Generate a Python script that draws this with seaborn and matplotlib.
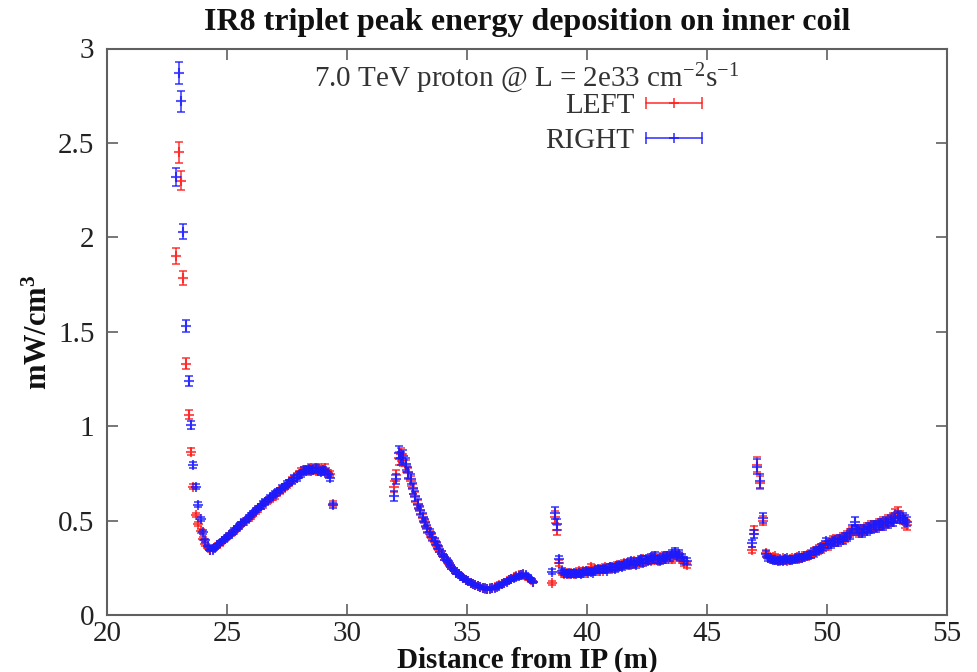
import numpy as np
import pandas as pd
import matplotlib
matplotlib.use("Agg")
import matplotlib.pyplot as plt
from matplotlib.lines import Line2D
from matplotlib.legend_handler import HandlerBase
import seaborn as sns

# ---------------- data ----------------
x_seg1 = [22.88, 22.98, 23.07, 23.18, 23.29,
          23.4, 23.5, 23.6, 23.7, 23.8, 23.9, 24.0, 24.1, 24.2,
          24.3, 24.4, 24.5, 24.6, 24.7, 24.8, 24.9,
          25.0, 25.1, 25.2, 25.3, 25.4, 25.5, 25.6, 25.7, 25.8, 25.9,
          26.0, 26.1, 26.2, 26.3, 26.4, 26.5, 26.6, 26.7, 26.8, 26.9,
          27.0, 27.1, 27.2, 27.3, 27.4, 27.5, 27.6, 27.7, 27.8, 27.9,
          28.0, 28.1, 28.2, 28.3, 28.4, 28.5, 28.6, 28.7, 28.8, 28.9,
          29.0, 29.1, 29.2, 29.3, 29.4]
left_seg1 = [1.90, 2.45, 2.30, 1.785, 1.33,
             1.06, 0.865, 0.68, 0.53, 0.48, 0.445, 0.405, 0.375, 0.355,
             0.345, 0.35, 0.36, 0.37, 0.375, 0.39, 0.40,
             0.415, 0.42, 0.435, 0.44, 0.455, 0.47, 0.48, 0.49, 0.505, 0.51,
             0.52, 0.535, 0.545, 0.56, 0.575, 0.58, 0.595, 0.605, 0.61, 0.625,
             0.63, 0.645, 0.655, 0.665, 0.68, 0.685, 0.70, 0.715, 0.72, 0.735,
             0.745, 0.76, 0.76, 0.77, 0.765, 0.78, 0.77, 0.765, 0.78, 0.77,
             0.76, 0.78, 0.75, 0.745, 0.59]
right_seg1 = [2.32, 2.87, 2.72, 2.03, 1.53,
              1.24, 1.006, 0.795, 0.68, 0.585, 0.51, 0.44, 0.395, 0.365,
              0.345, 0.345, 0.355, 0.37, 0.38, 0.39, 0.405,
              0.41, 0.425, 0.43, 0.45, 0.46, 0.465, 0.485, 0.495, 0.50, 0.52,
              0.53, 0.54, 0.555, 0.565, 0.575, 0.59, 0.60, 0.61, 0.625, 0.63,
              0.645, 0.65, 0.66, 0.675, 0.68, 0.695, 0.70, 0.71, 0.725, 0.725,
              0.74, 0.745, 0.77, 0.76, 0.775, 0.765, 0.77, 0.78, 0.765, 0.755,
              0.77, 0.76, 0.745, 0.725, 0.58]

x_seg2 = [31.95,
          32.05, 32.15, 32.25, 32.35, 32.45, 32.55, 32.65, 32.75, 32.85, 32.95,
          33.05, 33.15, 33.25, 33.35, 33.45, 33.55, 33.65, 33.75, 33.85, 33.95,
          34.05, 34.15, 34.25, 34.35, 34.45, 34.55, 34.65, 34.75, 34.85, 34.95,
          35.05, 35.15, 35.25, 35.35, 35.45, 35.55, 35.65, 35.75, 35.85, 35.95,
          36.05, 36.15, 36.25, 36.35, 36.45, 36.55, 36.65, 36.75, 36.85, 36.95,
          37.05, 37.15, 37.25, 37.35, 37.45, 37.55, 37.65, 37.75]
left_seg2 = [0.68,
             0.74, 0.83, 0.85, 0.82, 0.79, 0.75, 0.71, 0.665, 0.625, 0.585,
             0.55, 0.515, 0.485, 0.455, 0.43, 0.41, 0.385, 0.365, 0.345, 0.325,
             0.305, 0.285, 0.27, 0.255, 0.24, 0.225, 0.215, 0.205, 0.195, 0.185,
             0.18, 0.17, 0.165, 0.16, 0.155, 0.15, 0.145, 0.14, 0.14, 0.145,
             0.145, 0.15, 0.155, 0.16, 0.165, 0.17, 0.18, 0.185, 0.19, 0.20,
             0.205, 0.21, 0.21, 0.21, 0.205, 0.195, 0.185, 0.175]
right_seg2 = [0.63,
              0.72, 0.86, 0.83, 0.84, 0.80, 0.755, 0.72, 0.67, 0.63, 0.59,
              0.555, 0.52, 0.49, 0.46, 0.44, 0.415, 0.39, 0.37, 0.35, 0.325,
              0.305, 0.29, 0.275, 0.255, 0.24, 0.225, 0.215, 0.205, 0.195, 0.185,
              0.18, 0.17, 0.165, 0.16, 0.155, 0.15, 0.145, 0.145, 0.14, 0.14,
              0.145, 0.145, 0.15, 0.155, 0.165, 0.17, 0.175, 0.185, 0.19, 0.195,
              0.20, 0.205, 0.21, 0.215, 0.21, 0.20, 0.19, 0.175]

x_seg3 = [38.55, 38.65, 38.75, 38.85, 38.95,
          39.05, 39.15, 39.25, 39.35, 39.45, 39.55, 39.65, 39.75, 39.85, 39.95,
          40.05, 40.15, 40.25, 40.35, 40.45, 40.55, 40.65, 40.75, 40.85, 40.95,
          41.05, 41.15, 41.25, 41.35, 41.45, 41.55, 41.65, 41.75, 41.85, 41.95,
          42.05, 42.15, 42.25, 42.35, 42.45, 42.55, 42.65, 42.75, 42.85, 42.95,
          43.05, 43.15, 43.25, 43.35, 43.45, 43.55, 43.65, 43.75, 43.85, 43.95,
          44.05, 44.15]
left_seg3 = [0.17, 0.52, 0.45, 0.275, 0.225,
             0.215, 0.225, 0.215, 0.225, 0.215, 0.225, 0.235, 0.225, 0.235, 0.225,
             0.235, 0.255, 0.235, 0.245, 0.235, 0.245, 0.235, 0.255, 0.245, 0.255,
             0.245, 0.255, 0.265, 0.255, 0.265, 0.275, 0.265, 0.275, 0.265, 0.285,
             0.275, 0.285, 0.275, 0.295, 0.285, 0.295, 0.285, 0.305, 0.295, 0.285,
             0.305, 0.295, 0.315, 0.305, 0.315, 0.295, 0.325, 0.305, 0.315, 0.295,
             0.275, 0.265]
right_seg3 = [0.23, 0.54, 0.48, 0.295, 0.235,
              0.225, 0.215, 0.225, 0.215, 0.225, 0.215, 0.22, 0.215, 0.225, 0.235,
              0.225, 0.23, 0.225, 0.235, 0.245, 0.235, 0.245, 0.245, 0.235, 0.255,
              0.255, 0.245, 0.255, 0.265, 0.255, 0.265, 0.275, 0.265, 0.285, 0.275,
              0.265, 0.285, 0.295, 0.275, 0.295, 0.285, 0.305, 0.295, 0.315, 0.295,
              0.285, 0.305, 0.295, 0.315, 0.305, 0.325, 0.335, 0.315, 0.325, 0.305,
              0.285, 0.285]

x_seg4 = [46.88, 46.95, 47.07, 47.2, 47.32, 47.45,
          47.55, 47.65, 47.75, 47.85, 47.95,
          48.05, 48.15, 48.25, 48.35, 48.45, 48.55, 48.65, 48.75, 48.85, 48.95,
          49.05, 49.15, 49.25, 49.35, 49.45, 49.55, 49.65, 49.75, 49.85, 49.95,
          50.05, 50.15, 50.25, 50.35, 50.45, 50.55, 50.65, 50.75, 50.85, 50.95,
          51.05, 51.15, 51.25, 51.35, 51.45, 51.55, 51.65, 51.75, 51.85, 51.95,
          52.05, 52.15, 52.25, 52.35, 52.45, 52.55, 52.65, 52.75, 52.85, 52.95,
          53.05, 53.15, 53.25, 53.35]
left_seg4 = [0.345, 0.45, 0.795, 0.70, 0.50, 0.33,
             0.31, 0.295, 0.305, 0.31, 0.295,
             0.285, 0.30, 0.295, 0.285, 0.295, 0.30, 0.295, 0.305, 0.295, 0.31,
             0.305, 0.32, 0.315, 0.33, 0.325, 0.345, 0.355, 0.345, 0.365, 0.37,
             0.365, 0.385, 0.40, 0.385, 0.405, 0.395, 0.415, 0.405, 0.425, 0.435,
             0.445, 0.455, 0.445, 0.435, 0.455, 0.445, 0.465, 0.455, 0.475, 0.465,
             0.475, 0.485, 0.475, 0.495, 0.485, 0.505, 0.495, 0.515, 0.535, 0.545,
             0.525, 0.505, 0.485, 0.475]
right_seg4 = [0.38, 0.43, 0.785, 0.71, 0.515, 0.325,
              0.30, 0.30, 0.29, 0.29, 0.285,
              0.295, 0.285, 0.295, 0.30, 0.29, 0.29, 0.30, 0.295, 0.31, 0.30,
              0.31, 0.31, 0.32, 0.32, 0.34, 0.335, 0.345, 0.36, 0.355, 0.39,
              0.375, 0.375, 0.385, 0.395, 0.385, 0.405, 0.395, 0.415, 0.415, 0.425,
              0.455, 0.495, 0.455, 0.445, 0.435, 0.455, 0.445, 0.465, 0.455, 0.475,
              0.465, 0.475, 0.485, 0.475, 0.495, 0.485, 0.505, 0.495, 0.515, 0.525,
              0.515, 0.515, 0.505, 0.495]

# relative statistical uncertainty of each segment
rel_err_left = [0.022, 0.04, 0.06, 0.05]
rel_err_right = [0.020, 0.04, 0.06, 0.05]

series_names = ["LEFT", "RIGHT"]
series_colors = {"LEFT": "#ff1a1a", "RIGHT": "#1a1aff"}

title = "IR8 triplet peak energy deposition on inner coil"
subtitle = r"7.0 TeV proton @ L = 2e33 cm$^{-2}$s$^{-1}$"
xlabel = "Distance from IP (m)"
ylabel = r"mW/cm$^\mathbf{3}$"
xticks = [20, 25, 30, 35, 40, 45, 50, 55]
yticks = [0, 0.5, 1, 1.5, 2, 2.5, 3]
ytick_labels = ["0", "0.5", "1", "1.5", "2", "2.5", "3"]

# ---------------- build table ----------------
rows = []
xs = [x_seg1, x_seg2, x_seg3, x_seg4]
ls = [left_seg1, left_seg2, left_seg3, left_seg4]
rs = [right_seg1, right_seg2, right_seg3, right_seg4]
for k in range(4):
    for xv, yv in zip(xs[k], ls[k]):
        rows.append(("LEFT", xv, yv, yv * rel_err_left[k]))
    for xv, yv in zip(xs[k], rs[k]):
        rows.append(("RIGHT", xv, yv, yv * rel_err_right[k]))
df = pd.DataFrame(rows, columns=["side", "x", "y", "err"])

# ---------------- style ----------------
sns.set_theme(style="ticks")
plt.rcParams["font.family"] = ["Liberation Serif", "DejaVu Serif"]
plt.rcParams["mathtext.fontset"] = "custom"
plt.rcParams["mathtext.rm"] = "Liberation Serif"
plt.rcParams["mathtext.it"] = "Liberation Serif:italic"
plt.rcParams["mathtext.bf"] = "Liberation Serif:bold"

fig = plt.figure(figsize=(9.77, 6.72), dpi=100)
ax = fig.add_axes([107 / 977, 1 - 615 / 672, 840 / 977, 566.5 / 672])

for i, name in enumerate(series_names):
    d = df[df["side"] == name]
    c = series_colors[name]
    ax.errorbar(d["x"], d["y"], yerr=d["err"], fmt="none", ecolor=c,
                elinewidth=1.3, capsize=3.0, capthick=1.3, alpha=0.75,
                zorder=2 + 2 * i)
    sns.scatterplot(data=d, x="x", y="y", ax=ax, color=c, marker="+", s=45,
                    linewidth=1.5, alpha=0.75, legend=False, zorder=3 + 2 * i)

ax.set_xlim(20, 55)
ax.set_ylim(0, 3)
ax.set_xticks(xticks)
ax.set_yticks(yticks)
ax.set_yticklabels(ytick_labels)
spine_c = "#606060"
for sp in ax.spines.values():
    sp.set_visible(True)
    sp.set_color(spine_c)
    sp.set_linewidth(1.5)
ax.tick_params(direction="in", length=8, width=1.2, color=spine_c,
               top=True, right=True, labelsize=21, labelcolor="#222222")
ax.tick_params(axis="y", pad=9)
ax.tick_params(axis="x", pad=4)

ax.set_title(title, fontsize=23, fontweight="bold", pad=13, color="#111111")
ax.set_xlabel(xlabel, fontsize=21, fontweight="bold", labelpad=0, color="#111111")
ax.set_ylabel(ylabel, fontsize=22, fontweight="bold", labelpad=3, color="#111111")

ax.text(0.5, 0.934, subtitle, transform=ax.transAxes, ha="center",
        va="baseline", fontsize=21, color="#333333")


class ErrKeyHandler(HandlerBase):
    def create_artists(self, legend, orig_handle, xdescent, ydescent,
                       width, height, fontsize, trans):
        c = orig_handle.get_color()
        y = height / 2 - ydescent
        x0 = -xdescent
        x1 = x0 + width
        line = Line2D([x0, x1], [y, y], color=c, lw=1.2, alpha=0.85,
                      transform=trans)
        caps = Line2D([x0, x1], [y, y], ls="none", marker="|", ms=8,
                      mew=1.2, color=c, alpha=0.85, transform=trans)
        plus = Line2D([(x0 + x1) / 2], [y], ls="none", marker="+", ms=7,
                      mew=1.2, color=c, alpha=0.85, transform=trans)
        return [line, caps, plus]


handles = [Line2D([], [], color=series_colors[n]) for n in series_names]
leg = ax.legend(handles, series_names, loc="upper right",
                bbox_to_anchor=(0.708, 0.922), frameon=False, fontsize=21,
                markerfirst=False, handlelength=1.92, handletextpad=0.38,
                labelspacing=0.3, borderpad=0, borderaxespad=0,
                handler_map={Line2D: ErrKeyHandler()})
for t in leg.get_texts():
    t.set_color("#333333")

fig.savefig("out.png", dpi=100)
